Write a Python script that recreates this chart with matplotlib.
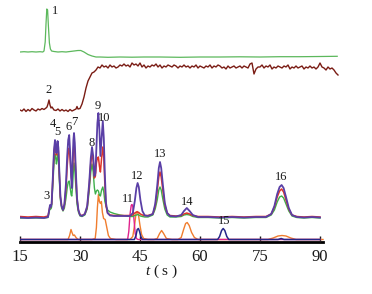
import matplotlib
matplotlib.use("Agg")
import matplotlib.pyplot as plt
import numpy as np

plt.rcParams['font.family'] = ['Liberation Serif', 'DejaVu Serif']
plt.rcParams['mathtext.fontset'] = 'custom'
plt.rcParams['mathtext.it'] = 'Liberation Serif:italic'
plt.rcParams['mathtext.rm'] = 'Liberation Serif'

# ---------------- data (time in s, signal in arbitrary units) ----------------
x_ticks = [15, 30, 45, 60, 75, 90]
x_tick_labels = ["15", "30", "45", "60", "75", "90"]
x_label = "$t$ ( s )"

# top trace (green), relative to its own baseline
t_top = [15, 16, 17, 18, 19, 20, 20.7, 21.0, 21.3, 21.5, 21.7, 21.9, 22.1, 22.35, 22.6,
         22.9, 23.5, 24.5, 25.5, 26.5, 27.5, 28.5, 29.5, 30.2, 31.0, 32.0, 33.0, 34.0, 35,
         37, 40, 43, 46, 50, 55, 60, 65, 70, 75, 80, 85, 90, 94.3]
green_top = [0, 0.3, 0, 0.3, 0, 0.3, 0, 1, 10, 28, 43, 42, 26, 9, 3,
             1, 0.5, 0, 0.3, 0, 0.5, 1, 1.5, 1.5, 0, -2.5, -4, -5, -5,
             -5.3, -5, -5.2, -5, -5, -5.3, -5, -5, -4.8, -5, -4.7, -4.7, -4.5, -4.3]

# second trace (brown)
t_brown = [15, 15.5, 16, 16.5, 17, 17.5, 18, 18.5, 19, 19.5, 20, 20.5, 21, 21.5, 21.75, 22.0,
           22.25, 22.5, 22.75, 23, 23.5, 24, 24.5, 25, 25.5, 26, 26.5, 27, 27.5, 28, 28.5,
           29, 29.25, 29.5, 30, 30.5, 31, 31.5, 32, 32.5, 33, 33.5, 34, 34.5,
           35, 35.5, 36, 36.5, 37, 37.5, 38, 38.5, 39, 39.5, 40, 40.5, 41, 41.5, 42, 42.5,
           43, 43.5, 44, 44.5, 45, 45.5, 46, 46.5, 47, 47.5, 48, 48.5, 49, 49.5, 50, 50.5,
           51, 51.5, 52, 52.5, 53, 53.5, 54, 54.5, 55, 55.5, 56, 56.5, 57, 57.5, 58, 58.5,
           59, 59.5, 60, 60.5, 61, 61.5, 62, 62.5, 63, 63.5, 64, 64.5, 65, 65.5, 66, 66.5,
           67, 67.5, 68, 68.5, 69, 69.5, 70, 70.5, 71, 71.5, 72, 72.5, 73, 73.5, 74, 74.5,
           75, 75.5, 76, 76.5, 77, 77.5, 78, 78.5, 79, 79.5, 80, 80.5, 81, 81.5, 82, 82.5,
           83, 83.5, 84, 84.5, 85, 85.5, 86, 86.5, 87, 87.5, 88, 88.5, 89, 89.5, 90, 90.5,
           91, 91.5, 92, 92.5, 93, 93.5, 94, 94.5]
brown = [0, -1, 1, -1.5, 0.5, -1, 1.5, 0, -1, 1, 0, 1.5, 0.5, 2, 3, 6,
         10, 5, 2, 3, 0, -0.5, 1, -1, 0.5, -1, 0, -1.5, 0.5, -1, 0,
         1, 3.5, 1, 1.5, 6, 13, 22, 29, 33, 37, 38, 40, 43,
         42, 45, 43, 44, 42, 45, 43, 44, 42, 43, 45, 44, 46, 44, 45, 43,
         47, 45, 46, 44, 47, 43, 45, 42, 44, 43, 45, 44, 46, 43, 45, 42,
         44, 43, 45, 44, 43, 45, 44, 42, 44, 43, 45, 43, 44, 42, 44, 43,
         45, 42, 44, 43, 42, 44, 43, 45, 42, 44, 43, 45, 44, 42, 43, 41,
         44, 42, 43, 44, 42, 43, 44, 42, 44, 43, 42, 46, 47, 36, 41, 43,
         43, 45, 42, 44, 43, 45, 41, 43, 42, 44, 43, 42, 44, 43, 45, 41,
         43, 42, 44, 42, 43, 44, 41, 43, 42, 44, 42, 43, 41, 43, 47, 43,
         42, 40, 43, 41, 42, 40, 37, 35]

# middle group (purple, red, green) on a common time grid
t_mid = [15, 17, 19, 21, 22.0, 22.3, 22.5, 22.7, 22.9, 23.2, 23.5, 23.75, 23.95, 24.1, 24.25,
         24.4, 24.6, 24.85, 25.1, 25.4, 25.75, 26.1, 26.5, 26.8, 27.05, 27.3, 27.55, 27.8,
         27.95, 28.15, 28.35, 28.5, 28.7, 28.95, 29.25, 29.6, 30.0, 30.5, 31.2, 31.8, 32.3,
         32.7, 33.0, 33.3, 33.6, 33.85, 34.1, 34.35, 34.6, 34.85, 35.1, 35.4, 35.7, 35.95,
         36.2, 36.5, 36.9, 37.5, 38.5, 40, 41.5, 42.5, 43.2, 43.7, 44.1, 44.4, 44.7, 45.1,
         45.6, 46.2, 47, 48.2, 48.8, 49.3, 49.7, 50.0, 50.3, 50.7, 51.2, 51.8, 52.5, 54,
         55.3, 56, 56.7, 57.4, 58.2, 59.5, 62, 65, 68, 71, 74, 76.5, 77.8, 78.6, 79.3, 79.9,
         80.4, 80.9, 81.5, 82.2, 83, 84.2, 86, 88, 90]
purple_mid = [0.5, 0, 0.5, 0, 1, 8, 13, 11, 14, 40, 68, 78, 72, 65, 70,
              77, 70, 45, 22, 12, 8, 14, 35, 62, 78, 83, 65, 40,
              30, 55, 78, 85, 75, 48, 20, 8, 3, 2, 4, 12, 35,
              60, 71, 62, 42, 45, 70, 95, 105, 88, 62, 80, 97, 80,
              45, 15, 5, 2.5, 2, 2, 2, 2, 5, 17, 30, 35, 31, 18,
              7, 2.5, 2, 4, 14, 32, 50, 56, 50, 34, 15, 5, 2, 1.5,
              3, 7, 10, 7, 3, 1, 1, 0.5, 1, 0.5, 1, 1, 4, 12, 24, 31,
              33, 30, 21, 10, 3, 1, 0.5, 1, 0.5]
red_mid = [1.5, 1, 1.5, 1, 2, 8, 12, 11, 14, 38, 65, 75, 70, 63, 67,
           74, 67, 43, 21, 12, 8, 13, 30, 52, 65, 70, 58, 42,
           38, 50, 68, 75, 67, 44, 19, 8, 3, 2.5, 4, 11, 32,
           55, 65, 57, 40, 42, 55, 60, 61, 52, 46, 60, 71, 60,
           35, 12, 5, 3, 2.5, 2.5, 2.5, 2.5, 3, 5, 6, 6, 5.5, 4,
           3, 2.5, 2.5, 4, 12, 27, 41, 46, 41, 28, 13, 5, 2.5, 2,
           2.5, 4, 5, 4, 2.5, 1.5, 1.5, 1, 1.5, 1, 1.5, 1.5, 4, 11, 21, 27,
           29, 26, 18, 9, 3, 1.5, 1, 1.5, 1]
green_mid = [0, 0, 0, 0, 0.5, 6, 10, 9, 11, 32, 55, 64, 60, 54, 58,
             64, 58, 37, 18, 10, 7, 10, 20, 30, 36, 37, 30, 23,
             22, 32, 48, 55, 48, 32, 14, 6, 2, 1.5, 3, 9, 27,
             46, 54, 46, 30, 24, 27, 28, 27, 23, 22, 28, 31, 26,
             17, 12, 8, 6, 4.5, 3, 2, 1.5, 1.5, 2.5, 3, 3.5, 3, 2,
             1.5, 1, 1, 3, 9, 18, 28, 31, 28, 19, 9, 3, 1, 1,
             1.5, 3, 3.5, 3, 1.5, 0.5, 0.5, 0, 0.5, 0, 0.5, 0.5, 3, 8, 16, 21,
             22, 20, 14, 7, 2, 0.5, 0, 0.5, 0]

# bottom group
t_orange = [15, 20, 25, 27.0, 27.4, 27.75, 28.0, 28.3, 28.6, 29.0, 29.5, 31, 33, 33.8, 34.1,
            34.35, 34.6, 34.85, 35.1, 35.35, 35.6, 35.9, 36.3, 36.7, 37.1, 37.6, 39, 41, 42.5,
            43.2, 43.7, 44.0, 44.3, 44.6, 45.0, 45.4, 45.9, 47, 48.5, 49.3, 49.9, 50.4, 50.9,
            51.6, 53, 54.5, 55.3, 55.9, 56.4, 56.8, 57.3, 57.9, 58.6, 59.5, 62, 68, 74, 77,
            78.3, 79.5, 80.5, 81.5, 82.7, 84, 87, 90.75]
orange = [0, 0, 0, 0, 4, 10, 7, 4, 4.5, 2, 0, 0, 0, 1, 12,
          32, 45, 38, 36, 38, 27, 21, 20, 12, 4, 1, 0, 0, 0,
          3, 16, 26, 28, 25, 14, 5, 1, 0, 0, 1, 6, 9, 6,
          1, 0, 0, 2, 10, 16, 17, 14, 7, 2, 0, 0, 0, 0, 0,
          1.5, 3.5, 4, 3.5, 1.5, 0, 0, 0]

t_magenta = [15, 30, 41.9, 42.2, 42.5, 42.8, 43.0, 43.2, 43.5, 43.8, 44.1, 44.5, 60, 90]
magenta = [0, 0, 0, 8, 25, 34, 35, 33, 20, 6, 1, 0, 0, 0]

t_navy = [15, 30, 43.6, 44.0, 44.3, 44.6, 44.9, 45.2, 45.6, 55, 64.4, 64.9, 65.4, 65.8, 66.2,
          66.7, 67.2, 79.5, 80.3, 81, 90]
navy = [0, 0, 0, 4, 10, 11, 8, 3, 0, 0, 0, 3, 9, 11, 9,
        3, 0, 0, 1, 0, 0]

peak_labels = ["1", "2", "3", "4", "5", "6", "7", "8", "9", "10", "11", "12", "13", "14", "15", "16"]
label_t = [23.75, 22.25, 21.5, 23.2, 24.3, 27.2, 28.6, 32.9, 34.45, 36.1, 42.0, 44.3, 50.0, 56.7, 66.0, 80.3]
label_y = [231, 152, 46, 118, 110, 115, 120, 99, 136, 124, 43, 66, 88, 40, 21, 65]

# ---------------- drawing ----------------
OFF_TOP, OFF_BROWN, OFF_MID, OFF_BOT = 190, 132, 24, 2.5

fig = plt.figure(figsize=(3.72, 2.94), dpi=100)
ax = fig.add_axes([20 / 372, 52 / 294, 320 / 372, 242 / 294])
ax.set_xlim(15, 95)
ax.set_ylim(0, 242)

def plot(t, v, off, color, lw=0.8, z=2):
    ax.plot(t, np.asarray(v) + off, color=color, lw=lw, zorder=z, solid_joinstyle='round')

plot(t_top, green_top, OFF_TOP, '#5cb85c', 0.9)
plot(t_brown, brown, OFF_BROWN, '#7a1c14', 1.0)

plot(t_orange, orange, OFF_BOT, '#f07d2e', 1.0, 2)
plot(t_navy, navy, OFF_BOT, '#27278a', 1.1, 2.2)
plot(t_magenta, magenta, OFF_BOT, '#e0228c', 1.0, 2.1)

plot(t_mid, green_mid, OFF_MID, '#3db04b', 1.0, 3)
plot(t_mid, red_mid, OFF_MID, '#e03428', 1.1, 3.1)
plot(t_mid, purple_mid, OFF_MID, '#5a3fa6', 1.3, 3.2)

for lab, tx, ty in zip(peak_labels, label_t, label_y):
    ax.text(tx, ty, lab, ha='center', va='center', fontsize=9, color='#1a1a1a', zorder=5)

for s in ['top', 'right', 'left']:
    ax.spines[s].set_visible(False)
ax.spines['bottom'].set_linewidth(2.0)
ax.spines['bottom'].set_bounds(15, 90.75)
ax.spines['bottom'].set_zorder(1)
ax.set_yticks([])
ax.set_xticks(x_ticks)
ax.set_xticklabels(x_tick_labels)
ax.tick_params(axis='x', direction='in', length=4, width=1, pad=5, labelsize=12, colors='#1a1a1a')

fig.text(162 / 372, 1 - 271 / 294, x_label, ha='center', va='center', fontsize=11, color='#1a1a1a')

fig.savefig('out.png', dpi=100)
